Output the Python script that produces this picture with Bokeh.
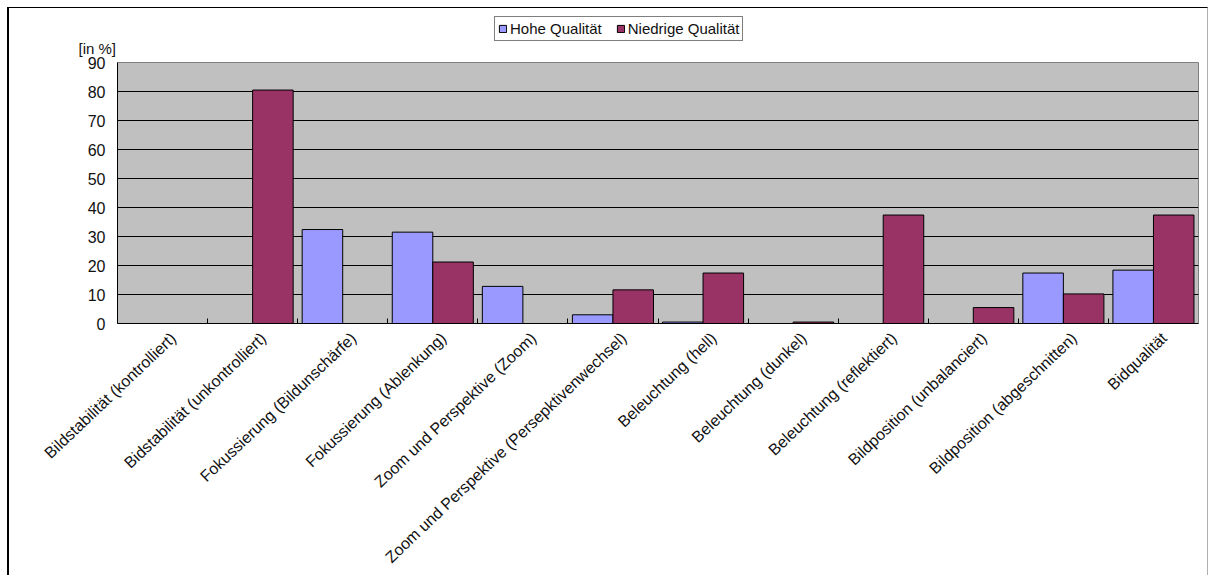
from bokeh.plotting import figure
from bokeh.layouts import column
from bokeh.models import (ColumnDataSource, Range1d, FixedTicker, Legend,
                          LegendItem, Title)
from bokeh.transform import dodge
from bokeh.embed import file_html
from bokeh.resources import INLINE

# Problem categories (x axis) and the share of videos showing them, in percent
categories = [
    "Bildstabilität (kontrolliert)",
    "Bidstabilität (unkontrolliert)",
    "Fokussierung (Bildunschärfe)",
    "Fokussierung (Ablenkung)",
    "Zoom und Perspektive (Zoom)",
    "Zoom und Perspektive (Persepktivenwechsel)",
    "Beleuchtung (hell)",
    "Beleuchtung (dunkel)",
    "Beleuchtung (reflektiert)",
    "Bildposition (unbalanciert)",
    "Bildposition (abgeschnitten)",
    "Bidqualität",
]
hohe_qualitaet = [0, 0, 32.4, 31.5, 12.8, 3.0, 0.5, 0, 0, 0, 17.4, 18.4]
niedrige_qualitaet = [0, 80.5, 0, 21.2, 0, 11.6, 17.4, 0.5, 37.4, 5.5, 10.2, 37.4]
y_ticks = [0, 10, 20, 30, 40, 50, 60, 70, 80, 90]
series_names = ["Hohe Qualität", "Niedrige Qualität"]
unit_label = "[in %]"

FONT = "Liberation Sans"
COLORS = ["#9999FF", "#993366"]
n = len(categories)
centers = [i + 0.5 for i in range(n)]
# rotated labels end slightly right of the category centre
label_pos = [c + 0.12 for c in centers]

W = 1201  # inner width of the chart box

# ---- header strip: legend and unit caption ---------------------------------
head = figure(
    width=W, height=54, x_range=Range1d(0, 1), y_range=Range1d(0, 1),
    x_axis_location=None, y_axis_location=None,
    min_border=0, min_border_bottom=21,
    output_backend="svg", toolbar_location=None,
    background_fill_color="white", border_fill_color="white",
    outline_line_color=None,
)
head.grid.grid_line_color = None
head.margin = (7, 0, 0, 7)
head.styles = {
    "border-left": "2px solid #000000",
    "border-top": "1px solid #000000",
    "border-right": "1px solid #b0b0b0",
}
# legend keys only: a single empty (NaN) bar per series
key_src = ColumnDataSource(dict(x=[float("nan")], top=[float("nan")]))
key_hohe = head.vbar(x="x", top="top", width=0.1, source=key_src,
                     fill_color=COLORS[0], line_color="black")
key_nied = head.vbar(x="x", top="top", width=0.1, source=key_src,
                     fill_color=COLORS[1], line_color="black")
legend = Legend(
    items=[LegendItem(label=series_names[0], renderers=[key_hohe]),
           LegendItem(label=series_names[1], renderers=[key_nied])],
    orientation="horizontal", location=(377, 0),
    label_text_font=FONT, label_text_font_size="15px",
    label_text_color="#111111",
    glyph_width=9, glyph_height=9, label_standoff=3, spacing=14,
    padding=3, margin=0, label_height=15,
    border_line_color="black", border_line_width=1,
    background_fill_color="white", background_fill_alpha=1,
)
head.add_layout(legend)
head.add_layout(Title(text=unit_label, align="left", offset=-39,
                      vertical_align="top", standoff=-4,
                      text_font=FONT, text_font_size="15px",
                      text_font_style="normal", text_color="#111111"),
                "below")

# ---- bar chart ---------------------------------------------------------------
src = ColumnDataSource(dict(x=centers, hohe=hohe_qualitaet,
                            niedrige=niedrige_qualitaet))

p = figure(
    width=W, height=523,
    x_range=Range1d(0, n), y_range=Range1d(0, y_ticks[-1]),
    output_backend="svg", toolbar_location=None,
    min_border_left=108, min_border_right=12,
    min_border_top=10, min_border_bottom=252,
    background_fill_color="#C0C0C0",
    border_fill_color="white", border_fill_alpha=0,
    outline_line_color="#808080", outline_line_width=1,
)
# overlap the header slightly so the top value label has room
p.margin = (-9, 0, 0, 7)
p.styles = {
    "border-left": "2px solid #000000",
    "border-right": "1px solid #b0b0b0",
}

p.vbar(x=dodge("x", -0.225, range=p.x_range), top="hohe", width=0.45,
       source=src, fill_color=COLORS[0], line_color="black", line_width=1)
p.vbar(x=dodge("x", 0.225, range=p.x_range), top="niedrige", width=0.45,
       source=src, fill_color=COLORS[1], line_color="black", line_width=1)

# x axis: category names, small inner ticks between categories
xa = p.xaxis[0]
xa.ticker = FixedTicker(ticks=label_pos, minor_ticks=list(range(1, n)))
xa.major_label_overrides = {c: lab for c, lab in zip(label_pos, categories)}
xa.major_label_orientation = 0.76
xa.major_tick_in = 0
xa.major_tick_out = 0
xa.minor_tick_in = 5
xa.minor_tick_out = 0
xa.minor_tick_line_color = "black"
xa.axis_line_color = "black"
xa.major_label_text_font = FONT
xa.major_label_text_font_size = "16px"
xa.major_label_text_color = "#111111"
xa.major_label_standoff = 12

ya = p.yaxis[0]
ya.ticker = FixedTicker(ticks=y_ticks)
ya.major_tick_in = 0
ya.major_tick_out = 0
ya.minor_tick_line_color = None
ya.axis_line_color = "black"
ya.major_label_text_font = FONT
ya.major_label_text_font_size = "16px"
ya.major_label_text_color = "#111111"
ya.major_label_standoff = 12

p.xgrid.grid_line_color = None
p.ygrid.ticker = FixedTicker(ticks=y_ticks[1:-1])
p.ygrid.grid_line_color = "black"
p.ygrid.grid_line_width = 1

layout = column(head, p, spacing=0)
open("out.html", "w").write(file_html(layout, INLINE))
